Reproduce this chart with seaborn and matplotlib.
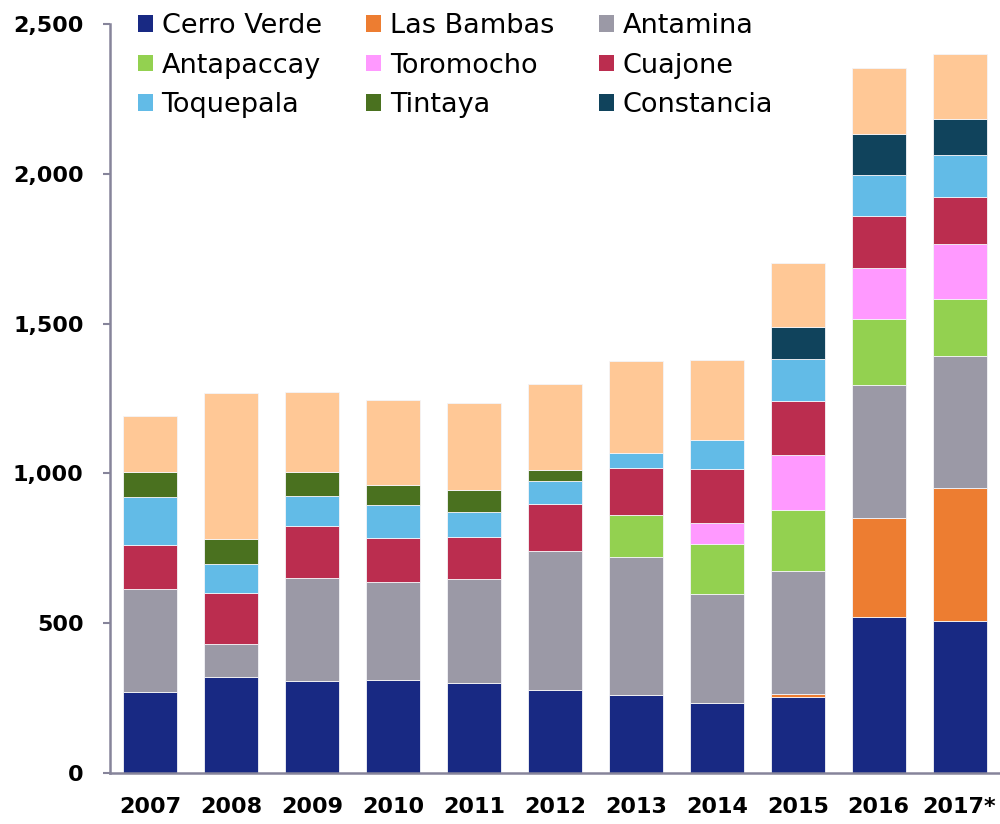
import matplotlib
matplotlib.use("Agg")
import matplotlib.pyplot as plt
from matplotlib.patches import Patch
from matplotlib.ticker import FuncFormatter
import seaborn as sns
import pandas as pd
import numpy as np

years = ["2007", "2008", "2009", "2010", "2011", "2012", "2013", "2014", "2015", "2016", "2017*"]

cerro_verde = [271, 322, 307, 310, 300, 277, 261, 235, 255, 522, 508]
las_bambas  = [0, 0, 0, 0, 0, 0, 0, 0, 7, 329, 442]
antamina    = [342, 108, 345, 327, 349, 463, 461, 361, 411, 445, 441]
antapaccay  = [0, 0, 0, 0, 0, 0, 139, 168, 205, 220, 191]
toromocho   = [0, 0, 0, 0, 0, 0, 0, 70, 182, 168, 184]
cuajone     = [149, 171, 171, 148, 138, 158, 156, 182, 182, 174, 155]
toquepala   = [158, 97, 100, 108, 84, 78, 51, 96, 140, 139, 142]
tintaya     = [84, 82, 83, 67, 73, 36, 0, 0, 0, 0, 0]
constancia  = [0, 0, 0, 0, 0, 0, 0, 0, 107, 135, 119]
otros       = [186, 487, 267, 286, 290, 286, 307, 266, 213, 222, 218]

series_names = ["Cerro Verde", "Las Bambas", "Antamina", "Antapaccay", "Toromocho",
                "Cuajone", "Toquepala", "Tintaya", "Constancia", "Otros"]
series_vals = [cerro_verde, las_bambas, antamina, antapaccay, toromocho,
               cuajone, toquepala, tintaya, constancia, otros]
colors = ["#182983", "#ed7d31", "#9b99a6", "#93d150", "#ff99ff",
          "#bb2d4f", "#62bbe7", "#4a711f", "#10435c", "#ffc896"]

sns.set_theme(style="white")
plt.rcParams['font.family'] = ['DejaVu Sans']

fig = plt.figure(figsize=(10, 8.24), dpi=100)
ax = fig.add_axes([0.11, 0.0619, 0.89, 0.909])

bottom = np.zeros(len(years))
for name, vals, col in zip(series_names, series_vals, colors):
    df = pd.DataFrame({"year": years, "value": vals})
    sns.barplot(data=df, x="year", y="value", color=col, bottom=bottom,
                width=0.667, edgecolor="#f4f4f8", linewidth=0.6,
                saturation=1, ax=ax, errorbar=None)
    bottom = bottom + np.array(vals)

ax.set_xlim(-0.5, 10.5)
ax.set_ylim(0, 2500)
ax.set_yticks([0, 500, 1000, 1500, 2000, 2500])
ax.yaxis.set_major_formatter(FuncFormatter(lambda v, p: f"{int(v):,}"))
ax.set_xlabel("")
ax.set_ylabel("")

spine_col = "#86849a"
for s in ["top", "right"]:
    ax.spines[s].set_visible(False)
for s in ["left", "bottom"]:
    ax.spines[s].set_color(spine_col)
    ax.spines[s].set_linewidth(1.8)

ax.tick_params(axis="y", which="major", left=True, length=5, width=1.5,
               color=spine_col, pad=14, labelsize=16, labelcolor="black")
ax.tick_params(axis="x", which="major", bottom=False, length=0, pad=17,
               labelsize=16, labelcolor="black")
for lab in ax.get_xticklabels() + ax.get_yticklabels():
    lab.set_fontweight("bold")

# legend: row-wise order in 3 columns
order = [0, 3, 6, 1, 4, 7, 2, 5, 8]
handles = [Patch(facecolor=colors[i], edgecolor="none") for i in order]
labels = [series_names[i] for i in order]
leg = ax.legend(handles, labels, ncol=3, loc="upper left",
                bbox_to_anchor=(0.019, 1.029), frameon=False,
                fontsize=19.5, handlelength=0.55, handleheight=0.55,
                handletextpad=0.33, columnspacing=1.64, labelspacing=0.5,
                borderaxespad=0, labelcolor="black")

fig.savefig("out.png", dpi=100)
